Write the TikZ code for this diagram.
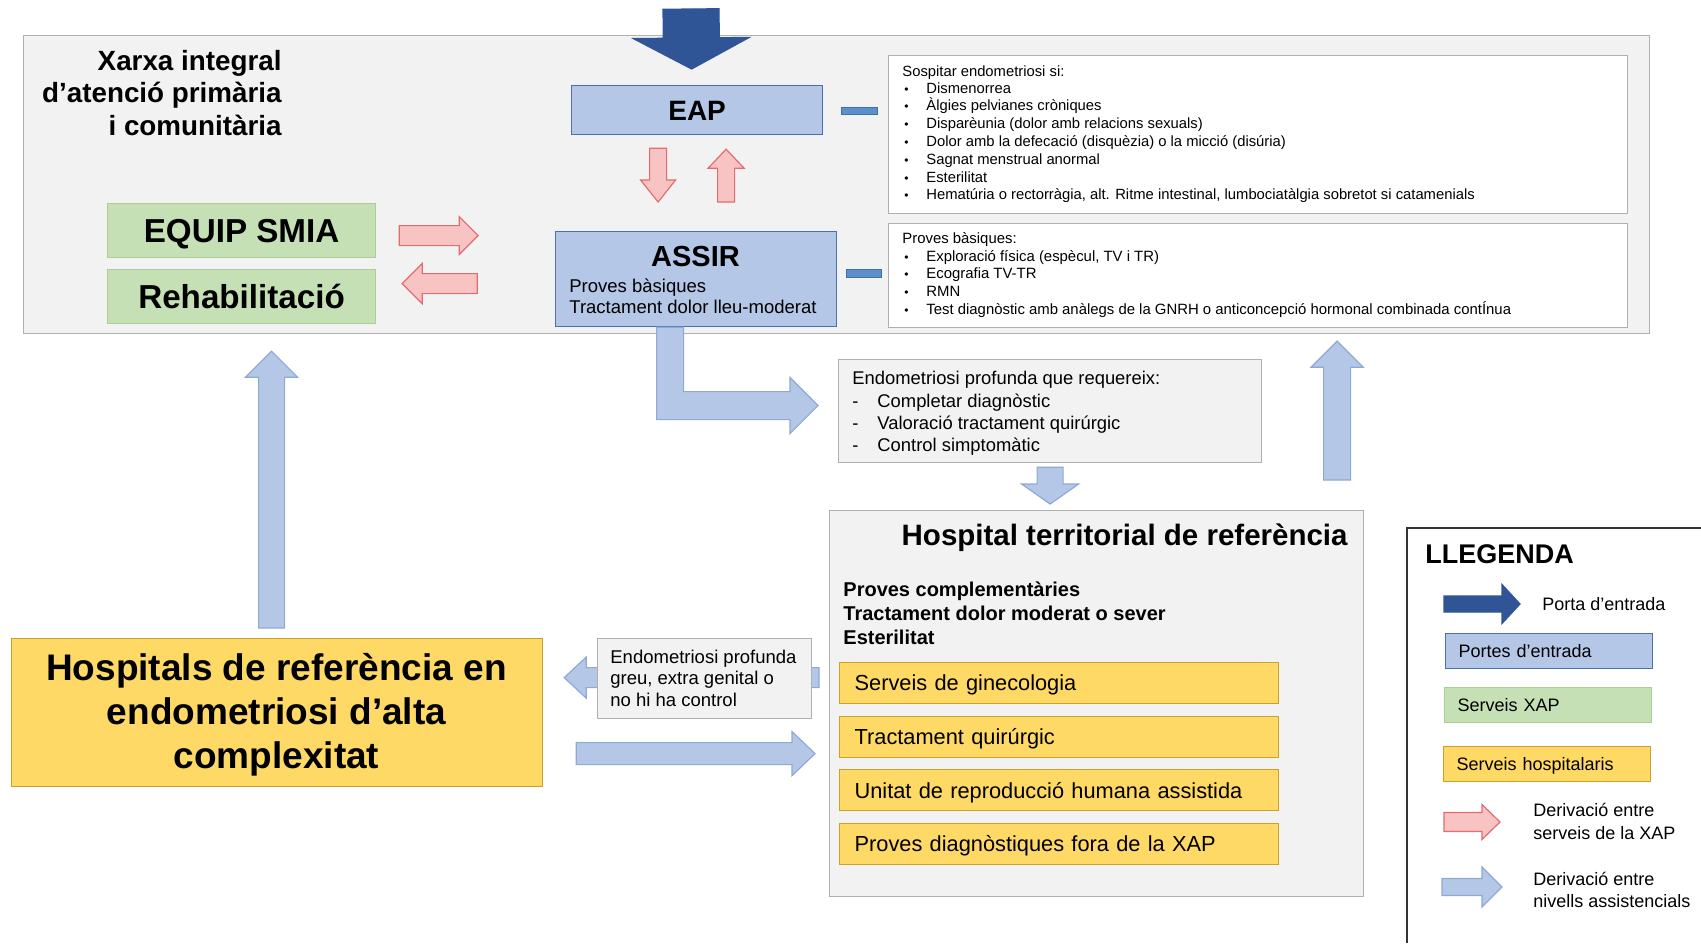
\documentclass[tikz,border=0pt]{standalone}
\usepackage{fontspec}
\setmainfont{Liberation Sans}
\usetikzlibrary{calc}

\definecolor{portfill}{HTML}{B4C7E7}
\definecolor{portline}{HTML}{4A6FB0}
\definecolor{levelline}{HTML}{8FA9D6}
\definecolor{entryblue}{HTML}{2F5597}
\definecolor{xapfill}{HTML}{C5E0B4}
\definecolor{xapline}{HTML}{A9CF93}
\definecolor{hospfill}{HTML}{FFD966}
\definecolor{hospline}{HTML}{C9A227}
\definecolor{pinkfill}{HTML}{F8C3C3}
\definecolor{pinkline}{HTML}{E46C6C}
\definecolor{panelfill}{HTML}{F2F2F2}
\definecolor{panelline}{HTML}{B0B0B0}
\definecolor{stubfill}{HTML}{5B8FCD}
\definecolor{stubline}{HTML}{41719C}

\tikzset{
  wh/.style 2 args={anchor=north west, minimum width=#1*0.5pt, minimum height=#2*0.5pt, inner sep=0pt},
  fs/.style 2 args={font=\fontsize{#1}{#2}\selectfont},
  fsb/.style 2 args={font=\fontsize{#1}{#2}\selectfont\bfseries},
  txt/.style={anchor=base west, inner sep=0pt},
  panel/.style={draw=panelline, fill=panelfill, line width=0.6pt},
  note/.style={draw=panelline, fill=white, line width=0.6pt},
  portbox/.style={draw=portline, fill=portfill, line width=0.6pt},
  xapbox/.style={draw=xapline, fill=xapfill, line width=0.6pt},
  hospbox/.style={draw=hospline, fill=hospfill, line width=0.6pt},
  legkey/.style={wh={207}{35}, fs={9}{11}, inner xsep=6.5pt, text width=90.5pt, align=left, text height=6.45pt, text depth=0pt},
  % block arrow: shaft half width, head half width, head length (px)
  fat/.style n args={3}{to path={
      let \p1=(\tikztostart), \p2=(\tikztotarget) in
      ($(\p1)!#1*0.5pt!90:(\p2)$)
      -- ($(\p2)!#3*0.5pt!(\p1)!#1*0.5pt!-90:(\p1)$)
      -- ($(\p2)!#3*0.5pt!(\p1)!#2*0.5pt!-90:(\p1)$)
      -- (\p2)
      -- ($(\p2)!#3*0.5pt!(\p1)!#2*0.5pt!90:(\p1)$)
      -- ($(\p2)!#3*0.5pt!(\p1)!#1*0.5pt!90:(\p1)$)
      -- ($(\p1)!#1*0.5pt!-90:(\p2)$) -- cycle}},
  bluearrow/.style={draw=levelline, fill=portfill, line width=0.6pt},
  pinkarrow/.style={draw=pinkline, fill=pinkfill, line width=0.6pt},
  entryarrow/.style={draw=entryblue, fill=entryblue, line width=0.6pt},
  stub/.style={draw=stubline, fill=stubfill, line width=0.4pt}
}

\begin{document}
\begin{tikzpicture}[x=0.5pt, y=-0.5pt]
\useasboundingbox (0,0) rectangle (1701,943);

% primary care network
\node[panel, wh={1626}{298}] (xarxa) at (23,35) {};
\foreach \t [count=\i from 0] in {Xarxa integral, d’atenció primària, i comunitària}
  \node[txt, anchor=base east, fsb={13.9}{16}] (xt\i) at (282, {70+32.5*\i}) {\t};

\node[portbox, wh={251}{49}, fsb={14}{16}, text height=10pt, text depth=0pt] (eap) at (571,85) {EAP};
\node[portbox, wh={281}{95}] (assir) at (555,231) {};
\node[txt, anchor=base, fsb={14.5}{16}] (assirt) at (695.5,266) {ASSIR};
\node[txt, fs={9.25}{10.5}] (assir1) at (569,292) {Proves bàsiques};
\node[txt, fs={9.25}{10.5}] (assir2) at (569,313) {Tractament dolor lleu-moderat};

\node[xapbox, wh={268}{54}, fsb={16.6}{19}, text height=11.9pt, text depth=0pt] (smia) at (107,203) {EQUIP SMIA};
\node[xapbox, wh={268}{54}, fsb={16.6}{19}, text height=11.9pt, text depth=0pt] (rehab) at (107,269) {Rehabilitació};

% entry and referrals inside the network
\coordinate (entry) at (691,9);
\draw[entryarrow] (entry) to[fat={28}{58}{31}] ($(eap.north)+(-5.5,-16)$);
\draw[pinkarrow] ($(eap.south)+(-39,13)$) to[fat={8.5}{17.5}{22}] ($(assir.north)+(-38,-29)$);
\draw[pinkarrow] ($(assir.north)+(30,-29)$) to[fat={8.5}{18}{19}] ($(eap.south)+(29,14)$);
\draw[pinkarrow] ($(smia.east)+(23,5)$) to[fat={10}{19}{19}] ($(smia.east)+(102,5)$);
\draw[pinkarrow] ($(rehab.east)+(101,-13)$) to[fat={10}{20}{20}] ($(rehab.east)+(26,-13)$);

% symptoms and basic tests
\node[note, wh={739}{158}] (sospita) at (888,55) {};
\node[txt, fs={7.4}{8.5}] (sospitat) at (902,76) {Sospitar endometriosi si:};
\foreach \t [count=\i from 0] in {Dismenorrea, Àlgies pelvianes cròniques, Disparèunia (dolor amb relacions sexuals), Dolor amb la defecació (disquèzia) o la micció (disúria), Sagnat menstrual anormal, Esterilitat, {Hematúria o rectorràgia, alt. Ritme intestinal, lumbociatàlgia sobretot si catamenials}} {
  \node[txt, fs={6}{8.5}] (sb\i) at (904, {93+17.8*\i}) {\textbullet};
  \node[txt, fs={7.4}{8.5}] (s\i) at (926, {93+17.8*\i}) {\t};
}
\node[note, wh={739}{104}] (basiques) at (888,223) {};
\node[txt, fs={7.45}{8.5}] (basiquest) at (902,243) {Proves bàsiques:};
\foreach \t [count=\i from 0] in {{Exploració física (espècul, TV i TR)}, Ecografia TV-TR, RMN, Test diagnòstic amb anàlegs de la GNRH o anticoncepció hormonal combinada contÍnua} {
  \node[txt, fs={6}{8.5}] (bb\i) at (904, {261+17.8*\i}) {\textbullet};
  \node[txt, fs={7.45}{8.5}] (b\i) at (926, {261+17.8*\i}) {\t};
}
\draw[stub] ($(eap.east)+(18,-2.5)$) rectangle ++(36,7);
\draw[stub] ($(assir.east)+(9,-9.5)$) rectangle ++(35,8);

% deep endometriosis
\node[panel, wh={423}{103}] (endo) at (838,359) {};
\node[txt, fs={9.2}{11}] (endot) at (852,384) {Endometriosi profunda que requereix:};
\foreach \t [count=\i from 0] in {Completar diagnòstic, Valoració tractament quirúrgic, Control simptomàtic} {
  \node[txt, fs={9.2}{11}] (ed\i) at (852, {407+22*\i}) {-};
  \node[txt, fs={9.2}{11}] (e\i) at (877, {407+22*\i}) {\t};
}
\coordinate (lstart) at ($(assir.south)+(-26,0)$);
\coordinate (lend) at ($(endo.west)+(-20,-5.5)$);
\draw[bluearrow] ($(lstart)+(-13.5,0)$) |- ($(lend)+(-28,14)$) -- ++(0,14) -- (lend)
  -- ++(-28,-28) -- ++(0,14) -| ($(lstart)+(13.5,0)$) -- cycle;

% territorial hospital
\node[panel, wh={534}{386}] (hosp) at (829,510) {};
\node[txt, anchor=base east, fsb={14.75}{17}] (hospt) at (1348,545) {Hospital territorial de referència};
\foreach \t [count=\i from 0] in {Proves complementàries, Tractament dolor moderat o sever, Esterilitat}
  \node[txt, fsb={10}{12}] (h\i) at (843, {596+24*\i}) {\t};
\foreach \t [count=\i from 0] in {Serveis de ginecologia, Tractament quirúrgic, Unitat de reproducció humana assistida, Proves diagnòstiques fora de la XAP}
  \node[hospbox, wh={439}{41}, fs={10.9}{12.5}, inner xsep=7.5pt, text width=204.5pt, align=left, text height=7.8pt, text depth=0pt] (srv\i) at (839, {662+53.6*\i}) {\t};
\draw[bluearrow] ($(endo.south)+(0,4)$) to[fat={13}{28.5}{20}] ($(hosp.north)+(-46.5,-6)$);
\draw[bluearrow] ($(hosp.north)+(240.5,-30)$) to[fat={13.5}{26}{26}] ($(xarxa.south)+(500.5,7)$);

% high complexity hospitals
\node[hospbox, wh={531}{148}] (hospref) at (11,638) {};
\foreach \t [count=\i from 0] in {Hospitals de referència en, endometriosi d’alta, complexitat}
  \node[txt, anchor=base, fsb={18.5}{22}] (r\i) at (276.5, {680+44*\i}) {\t};
\draw[bluearrow] ($(hospref.north)+(-5.5,-10)$) to[fat={13}{26}{26}] ($(xarxa.south)+(-565,17)$);
\draw[bluearrow] ($(hosp.west)+(-10,-26)$) to[fat={10}{20.5}{22}] ($(hospref.east)+(21,-35)$);
\draw[bluearrow] ($(hospref.east)+(33,41)$) to[fat={11}{22}{23}] ($(hosp.west)+(-14,50)$);
\node[panel, wh={214}{80}] (greu) at (597,638) {};
\foreach \t [count=\i from 0] in {Endometriosi profunda, {greu, extra genital o}, no hi ha control}
  \node[txt, fs={9.25}{10.75}] (g\i) at (610, {663+21.5*\i}) {\t};

% legend
\draw[line width=0.7pt, draw=black!80] (1701,528) -| (1407,943);
\node[txt, fsb={13.5}{16}] (llegenda) at (1425,563) {LLEGENDA};
\draw[entryarrow] (1444,604) to[fat={8}{19.5}{18}] (1520,604);
\node[txt, fs={9}{11}] (lg1) at (1542,610) {Porta d’entrada};
\node[portbox, legkey] (lg2) at (1445,633) {Portes d’entrada};
\node[xapbox, legkey] (lg3) at (1444,687) {Serveis XAP};
\node[hospbox, legkey] (lg4) at (1443,746) {Serveis hospitalaris};
\draw[pinkarrow] (1444,822) to[fat={9.5}{17.5}{18}] (1500,822);
\node[txt, fs={9}{11}] (lg5) at (1533,816) {Derivació entre};
\node[txt, fs={9}{11}] (lg6) at (1533,839) {serveis de la XAP};
\draw[bluearrow] (1442,887) to[fat={8.5}{20}{20}] (1502,887);
\node[txt, fs={9}{11}] (lg7) at (1533,885) {Derivació entre};
\node[txt, fs={9}{11}] (lg8) at (1533,907) {nivells assistencials};
\end{tikzpicture}
\end{document}
